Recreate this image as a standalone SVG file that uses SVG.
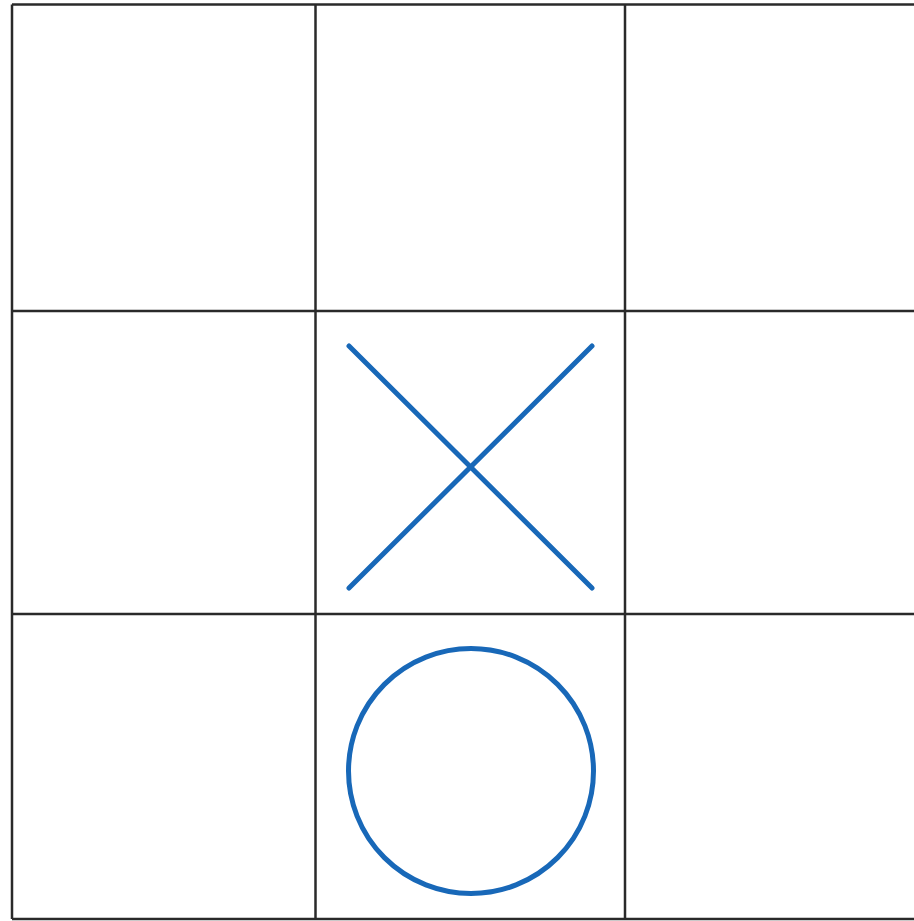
<svg xmlns="http://www.w3.org/2000/svg" width="914" height="921" viewBox="0 0 914 921">
<style>
.grid{stroke:#2a2a2a;stroke-width:2.5;fill:none}
.mark{stroke:#1868b8;stroke-width:5;fill:none;stroke-linecap:round}
</style>
<rect width="914" height="921" fill="#fff"/>
<g id="grid" class="grid">
<line x1="12" y1="4.5" x2="914" y2="4.5"/>
<line x1="12" y1="311" x2="914" y2="311"/>
<line x1="12" y1="614" x2="914" y2="614"/>
<line x1="12" y1="919" x2="914" y2="919"/>
<line x1="12" y1="4.5" x2="12" y2="919"/>
<line x1="315.5" y1="4.5" x2="315.5" y2="919"/>
<line x1="625" y1="4.5" x2="625" y2="919"/>
</g>
<g id="x-mark" class="mark">
<line x1="349" y1="346" x2="592" y2="588"/>
<line x1="592" y1="346" x2="349" y2="588"/>
</g>
<g id="o-mark" class="mark">
<circle cx="471" cy="771" r="122.5"/>
</g>
</svg>
